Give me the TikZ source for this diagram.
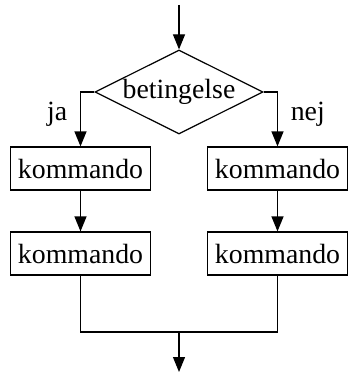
\documentclass[tikz,border=0pt]{standalone}
\usepackage{fontspec}
\setmainfont{Liberation Serif}
\usetikzlibrary{arrows.meta,shapes.geometric}

\begin{document}
\begin{tikzpicture}[x=0.5pt,y=-0.5pt,line width=0.6pt,
		>={Triangle[length=7.5pt,width=6pt]},
		every node/.style={font=\fontsize{13.9}{16}\selectfont},
		cmd/.style={draw,rectangle,minimum width=70pt,minimum height=21.5pt,inner sep=0pt},
		cond/.style={draw,diamond,aspect=2,minimum width=84pt,minimum height=42pt,inner sep=0pt}]
		\useasboundingbox (0,0) rectangle (348,374);
		
		\coordinate (start) at (179,5);
		\node[cond] (node-cond) at (179,92) {betingelse};
		\node[cmd] (node-ja1) at (80.5,168.5) {kommando};
		\node[cmd] (node-nej1) at (277.5,168.5) {kommando};
		\node[cmd] (node-ja2) at (80.5,253.5) {kommando};
		\node[cmd] (node-nej2) at (277.5,253.5) {kommando};
		\coordinate (join) at (179,332);
		\coordinate (stop) at (179,372);
		
		\draw[->] (start) -- (node-cond.north);
		\draw[->] (node-cond.west) -| (node-ja1.north)
		node[pos=0.7,left,xshift=-3pt] {ja};
		\draw[->] (node-cond.east) -| (node-nej1.north)
		node[pos=0.7,right,xshift=3pt] {nej};
		\draw[->] (node-ja1) -- (node-ja2);
		\draw[->] (node-nej1) -- (node-nej2);
		\draw (node-ja2.south) |- (join) -| (node-nej2.south);
		\draw[->] (join) -- (stop);
		\end{tikzpicture}
\end{document}
